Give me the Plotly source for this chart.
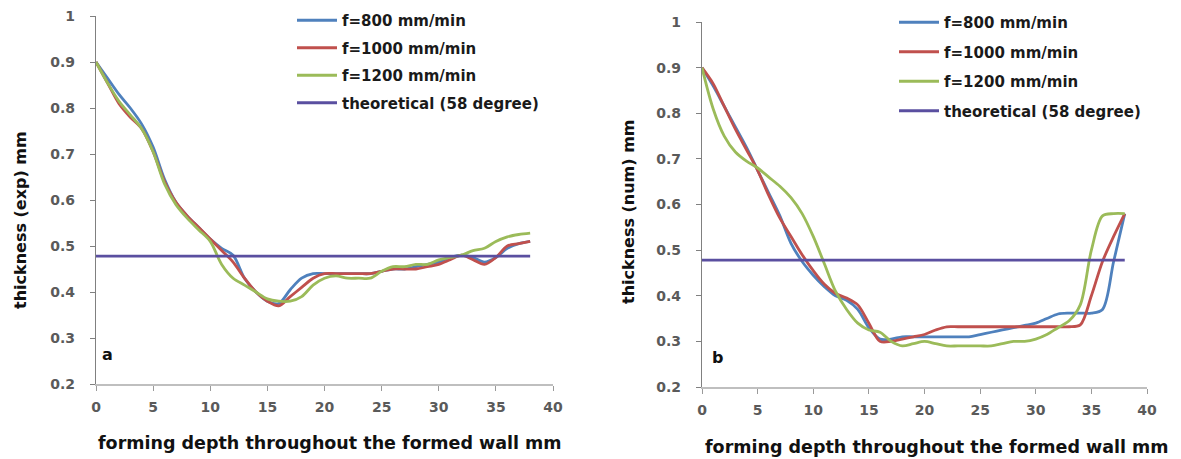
import plotly.graph_objects as go

W, H = 1181, 459

depth = list(range(0, 39))

# (a) experimental thickness
exp_800 = [0.90, 0.865, 0.83, 0.80, 0.765, 0.715, 0.645, 0.595, 0.565, 0.54,
           0.515, 0.495, 0.48, 0.43, 0.40, 0.38, 0.375, 0.405, 0.43, 0.44,
           0.44, 0.44, 0.44, 0.44, 0.44, 0.445, 0.45, 0.45, 0.455, 0.46,
           0.465, 0.475, 0.48, 0.475, 0.465, 0.475, 0.495, 0.505, 0.51]
exp_1000 = [0.90, 0.855, 0.81, 0.78, 0.755, 0.705, 0.64, 0.595, 0.565, 0.54,
            0.515, 0.49, 0.465, 0.43, 0.40, 0.38, 0.37, 0.39, 0.41, 0.43,
            0.44, 0.44, 0.44, 0.44, 0.44, 0.445, 0.45, 0.45, 0.45, 0.455,
            0.46, 0.47, 0.48, 0.47, 0.46, 0.475, 0.50, 0.505, 0.51]
exp_1200 = [0.90, 0.855, 0.815, 0.785, 0.755, 0.705, 0.635, 0.59, 0.56, 0.535,
            0.51, 0.46, 0.43, 0.415, 0.40, 0.385, 0.38, 0.38, 0.39, 0.415,
            0.43, 0.435, 0.43, 0.43, 0.43, 0.445, 0.455, 0.455, 0.46, 0.46,
            0.47, 0.475, 0.48, 0.49, 0.495, 0.51, 0.52, 0.525, 0.528]

# (b) numerical thickness
num_800 = [0.90, 0.86, 0.815, 0.77, 0.725, 0.675, 0.625, 0.575, 0.515, 0.475,
           0.445, 0.42, 0.40, 0.39, 0.37, 0.33, 0.305, 0.305, 0.31, 0.31,
           0.31, 0.31, 0.31, 0.31, 0.31, 0.315, 0.32, 0.325, 0.33, 0.335,
           0.34, 0.35, 0.36, 0.362, 0.362, 0.362, 0.37, 0.475, 0.58]
num_1000 = [0.90, 0.865, 0.815, 0.765, 0.72, 0.675, 0.62, 0.57, 0.53, 0.49,
            0.455, 0.425, 0.405, 0.395, 0.38, 0.34, 0.30, 0.30, 0.305, 0.31,
            0.315, 0.325, 0.332, 0.332, 0.332, 0.332, 0.332, 0.332, 0.332, 0.332,
            0.332, 0.332, 0.332, 0.332, 0.336, 0.40, 0.475, 0.53, 0.58]
num_1200 = [0.90, 0.81, 0.75, 0.715, 0.695, 0.68, 0.66, 0.64, 0.615, 0.58,
            0.53, 0.47, 0.41, 0.37, 0.34, 0.325, 0.32, 0.30, 0.29, 0.295,
            0.30, 0.295, 0.29, 0.29, 0.29, 0.29, 0.29, 0.295, 0.30, 0.30,
            0.305, 0.315, 0.33, 0.345, 0.38, 0.50, 0.575, 0.58, 0.58]

theory_x = [0, 38]
theory_y = [0.478, 0.478]

names = ["f=800 mm/min", "f=1000 mm/min", "f=1200 mm/min", "theoretical (58 degree)"]
colors = ["#4F81BD", "#C0504D", "#9BBB59", "#5A4FA0"]

x_ticks = [0, 5, 10, 15, 20, 25, 30, 35, 40]
y_ticks = [0.2, 0.3, 0.4, 0.5, 0.6, 0.7, 0.8, 0.9, 1.0]
y_tick_text = ["0.2", "0.3", "0.4", "0.5", "0.6", "0.7", "0.8", "0.9", "1"]

FONT = "DejaVu Sans"

fig = go.Figure()

def add_panel(series, xa, ya, legend):
    for i, ys in enumerate(series):
        fig.add_trace(go.Scatter(
            x=depth, y=ys, mode="lines", name=names[i],
            line=dict(color=colors[i], width=2.8, shape="spline", smoothing=0.9),
            xaxis=xa, yaxis=ya, legend=legend, legendgroup=legend + str(i),
        ))
    fig.add_trace(go.Scatter(
        x=theory_x, y=theory_y, mode="lines", name=names[3],
        line=dict(color=colors[3], width=2.8),
        xaxis=xa, yaxis=ya, legend=legend, legendgroup=legend + "3",
    ))

add_panel([exp_800, exp_1000, exp_1200], "x", "y", "legend")
add_panel([num_800, num_1000, num_1200], "x2", "y2", "legend2")

def px(x):
    return x / W

def py(y):
    return 1 - y / H

axis_common = dict(showgrid=False, zeroline=False, ticks="outside", ticklen=5,
                   automargin=False,
                   tickfont=dict(family=FONT, size=14, color="#5A5A5A", weight="bold"),
                   showline=True)

fig.update_layout(
    template="none",
    width=W, height=H,
    margin=dict(l=0, r=0, t=0, b=0, pad=0),
    paper_bgcolor="white", plot_bgcolor="white",
    showlegend=True,
    xaxis=dict(domain=[px(96), px(553)], range=[0, 40], tickvals=x_ticks,
               anchor="y", linecolor="#BFBFBF", linewidth=2, tickcolor="#9A9A9A",
               ticklabelstandoff=4, **axis_common),
    yaxis=dict(domain=[py(384), py(16)], range=[0.2, 1.0], tickvals=y_ticks,
               ticktext=y_tick_text, anchor="x", linecolor="#808080", linewidth=1.2,
               tickcolor="#808080", ticklabelstandoff=12, **axis_common),
    xaxis2=dict(domain=[px(702), px(1147)], range=[0, 40], tickvals=x_ticks,
                anchor="y2", linecolor="#BFBFBF", linewidth=2, tickcolor="#9A9A9A",
                ticklabelstandoff=4, **axis_common),
    yaxis2=dict(domain=[py(387), py(22)], range=[0.2, 1.0], tickvals=y_ticks,
                ticktext=y_tick_text, anchor="x2", linecolor="#808080", linewidth=1.2,
                tickcolor="#808080", ticklabelstandoff=12, **axis_common),
    legend=dict(x=px(292), y=py(4), xanchor="left", yanchor="top",
                font=dict(family=FONT, size=15, color="#1a1a1a", weight="bold"),
                tracegroupgap=5, bgcolor="rgba(0,0,0,0)", itemwidth=40),
    legend2=dict(x=px(894), y=py(6), xanchor="left", yanchor="top",
                 font=dict(family=FONT, size=15, color="#1a1a1a", weight="bold"),
                 tracegroupgap=7, bgcolor="rgba(0,0,0,0)", itemwidth=40),
)

title_font = dict(family=FONT, size=17.5, color="#111111", weight="bold")
ytitle_font = dict(family=FONT, size=16, color="#111111", weight="bold")

common_ann = dict(xref="paper", yref="paper", showarrow=False,
                  xanchor="center", yanchor="middle")
annotations = [
    dict(text="forming depth throughout the formed wall mm", x=px(330), y=py(443),
         font=title_font, **common_ann),
    dict(text="forming depth throughout the formed wall mm", x=px(937), y=py(447),
         font=title_font, **common_ann),
    dict(text="thickness (exp) mm", x=px(20), y=py(220), textangle=-90,
         font=ytitle_font, **common_ann),
    dict(text="thickness (num) mm", x=px(628), y=py(212), textangle=-90,
         font=ytitle_font, **common_ann),
    dict(text="a", x=1.0, y=0.265, xref="x", yref="y", showarrow=False,
         font=dict(family=FONT, size=16, color="#111111", weight="bold")),
    dict(text="b", x=1.4, y=0.264, xref="x2", yref="y2", showarrow=False,
         font=dict(family=FONT, size=16, color="#111111", weight="bold")),
]
fig.update_layout(annotations=annotations)

fig.write_html("out.html",
               config={"displayModeBar": False},
               post_script="document.body.style.margin='0';document.body.style.overflow='hidden';")
